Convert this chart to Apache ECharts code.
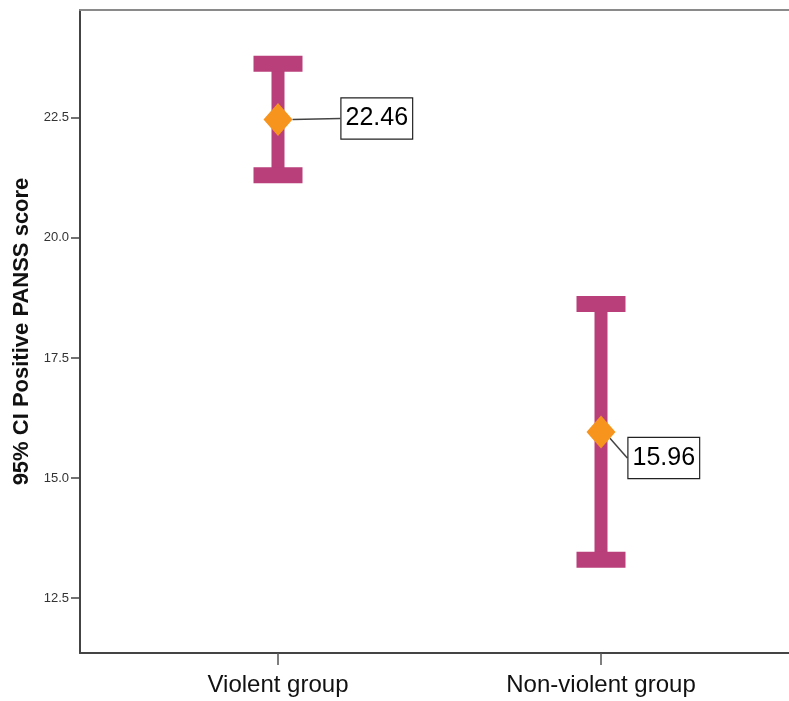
<!DOCTYPE html>
<html>
<head>
<meta charset="utf-8">
<script src="https://cdn.jsdelivr.net/npm/echarts@6/dist/echarts.min.js"></script>
<style>html,body{margin:0;padding:0;background:#fff}#c{width:789px;height:701px}</style>
</head>
<body>
<div id="c"></div>
<script>
const categories = ['Violent group', 'Non-violent group'];
const catPos = [1, 2];
const means = [22.46, 15.96];
const ciLower = [21.30, 13.30];
const ciUpper = [23.62, 18.62];
const yTicks = [12.5, 15, 17.5, 20, 22.5];
const yTitle = '95% CI Positive PANSS score';

const chart = echarts.init(document.getElementById('c'));
const barColor = '#B93F7A';
const labelOffsets = [[44, -1], [8, 26]];

chart.setOption({
  animation: false,
  grid: { left: 80, top: 10, right: -10, bottom: 48, show: false,
          containLabel: false, outerBoundsMode: 'none' },
  xAxis: [{
    type: 'value', min: 0.387, max: 2.613,
    splitLine: { show: false },
    axisLine: { show: true, onZero: false, lineStyle: { color: '#444', width: 2 } },
    axisTick: { show: true, customValues: catPos, length: 12, lineStyle: { color: '#555', width: 1.5 } },
    axisLabel: {
      customValues: catPos, margin: 20,
      formatter: v => categories[catPos.indexOf(v)] || '',
      fontFamily: 'Liberation Sans, Arial', fontSize: 24, color: '#111'
    }
  }, {
    type: 'value', position: 'top', min: 0.387, max: 2.613,
    splitLine: { show: false },
    axisLine: { show: true, onZero: false, lineStyle: { color: '#8a8a8a', width: 2 } },
    axisTick: { show: false }, axisLabel: { show: false }
  }],
  yAxis: {
    type: 'value', min: 11.36, max: 24.74,
    name: yTitle, nameLocation: 'middle', nameGap: 47,
    nameTextStyle: { fontFamily: 'Liberation Sans, Arial', fontWeight: 'bold', fontSize: 22, color: '#111' },
    splitLine: { show: false },
    axisLine: { show: true, onZero: false, lineStyle: { color: '#444', width: 2 } },
    axisTick: { show: true, customValues: yTicks, length: 9, lineStyle: { color: '#444', width: 1.5 } },
    axisLabel: {
      customValues: yTicks, margin: 11,
      formatter: v => v.toFixed(1),
      fontFamily: 'Liberation Sans, Arial', fontSize: 13, color: '#333'
    }
  },
  series: [
    {
      type: 'custom',
      data: catPos.map((x, i) => [x, ciLower[i], ciUpper[i]]),
      renderItem: function (params, api) {
        const x = api.value(0);
        const lo = api.coord([x, api.value(1)]);
        const hi = api.coord([x, api.value(2)]);
        const capW = 49, capH = 16, stemW = 13;
        const style = { fill: barColor };
        return {
          type: 'group',
          children: [
            { type: 'rect', shape: { x: hi[0] - stemW / 2, y: hi[1], width: stemW, height: lo[1] - hi[1] }, style },
            { type: 'rect', shape: { x: hi[0] - capW / 2, y: hi[1] - capH / 2, width: capW, height: capH }, style },
            { type: 'rect', shape: { x: lo[0] - capW / 2, y: lo[1] - capH / 2, width: capW, height: capH }, style }
          ]
        };
      },
      z: 2
    },
    {
      type: 'scatter',
      data: catPos.map((x, i) => [x, means[i]]),
      symbol: 'diamond',
      symbolSize: [29, 33],
      itemStyle: { color: '#F7941D', opacity: 1 },
      z: 3,
      label: {
        show: true, position: 'right', distance: 5,
        formatter: p => p.value[1].toFixed(2),
        fontFamily: 'Liberation Sans, Arial', fontSize: 25, color: '#000',
        backgroundColor: '#fff', borderColor: '#222', borderWidth: 1.2,
        padding: [6, 4, 4, 4], lineHeight: 30
      },
      labelLine: { show: true, lineStyle: { color: '#444', width: 1.5 } },
      labelLayout: function (p) {
        const o = labelOffsets[p.dataIndex];
        return { dx: o[0], dy: o[1] };
      }
    }
  ]
});
</script>
</body>
</html>
